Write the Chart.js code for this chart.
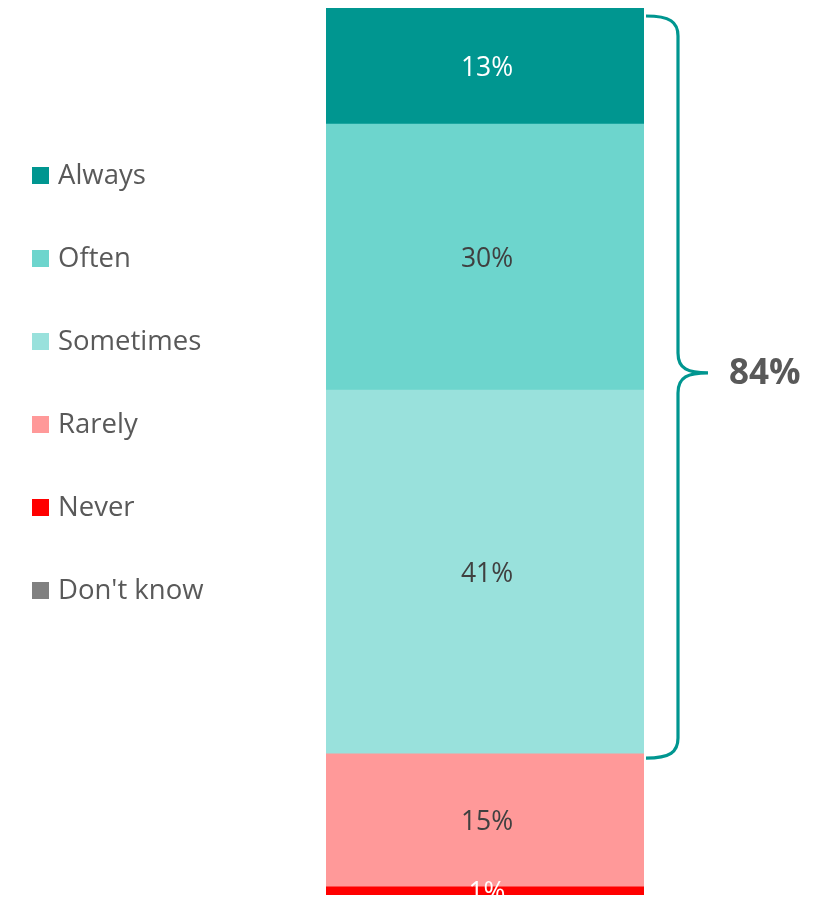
<!DOCTYPE html>
<html lang="en">
<head>
  <meta charset="UTF-8" />
  <title>Frequency</title>
  <script src="https://cdn.jsdelivr.net/npm/chart.js"></script>
  <style>
    html, body { margin: 0; padding: 0; background: #fff; }
    #wrap { width: 825px; height: 897px; }
  </style>
</head>
<body>
  <div id="wrap"><canvas id="freqChart" width="825" height="897"></canvas></div>
  <script>
    const categories = ['Frequency'];
    const answers = ['Always', 'Often', 'Sometimes', 'Rarely', 'Never', "Don't know"];
    const shares = [13, 30, 41, 15, 1, 0];
    const colors = ['#009690', '#6DD5CD', '#99E1DC', '#FF9999', '#FF0000', '#808080'];
    const labelColors = ['#FFFFFF', '#404040', '#404040', '#404040', '#FFFFFF', '#FFFFFF'];
    const positiveCount = 3; // Always + Often + Sometimes

    const FONT = "'Open Sans', sans-serif";
    const TEAL = '#009690';
    const GREY = '#595959';

    // value labels in the middle of each segment
    const segmentLabels = {
      id: 'segmentLabels',
      afterDatasetsDraw(chart) {
        const ctx = chart.ctx;
        ctx.save();
        ctx.font = '26.5px ' + FONT;
        ctx.textAlign = 'center';
        ctx.textBaseline = 'middle';
        chart.data.datasets.forEach((ds, i) => {
          const v = ds.data[0];
          if (!v) return;
          const bar = chart.getDatasetMeta(i).data[0];
          ctx.fillStyle = labelColors[i];
          ctx.fillText(v + '%', bar.x + 2, (bar.y + bar.base) / 2 + 3);
        });
        ctx.restore();
      }
    };

    // legend on the left, one row per answer
    const sideLegend = {
      id: 'sideLegend',
      afterDraw(chart) {
        const ctx = chart.ctx;
        ctx.save();
        ctx.font = '27.5px ' + FONT;
        ctx.textBaseline = 'middle';
        chart.data.datasets.forEach((ds, i) => {
          const y = 175 + i * 83;
          ctx.fillStyle = ds.backgroundColor;
          ctx.fillRect(32, y - 8, 17, 17);
          ctx.fillStyle = GREY;
          ctx.fillText(ds.label, 58, y + 1);
        });
        ctx.restore();
      }
    };

    // curly bracket around the positive answers with their total
    const totalBracket = {
      id: 'totalBracket',
      afterDraw(chart) {
        const ctx = chart.ctx;
        const yScale = chart.scales.y;
        const bar = chart.getDatasetMeta(0).data[0];
        const total = shares.slice(0, positiveCount).reduce((a, b) => a + b, 0);
        const top = yScale.getPixelForValue(0) + 8;
        const bottom = yScale.getPixelForValue(total) + 5;
        const mid = top + (bottom - top) * 0.481;
        const x0 = bar.x + bar.width / 2 + 2;
        const xv = x0 + 32;
        const xt = x0 + 62;
        ctx.save();
        ctx.strokeStyle = TEAL;
        ctx.lineWidth = 3.2;
        ctx.beginPath();
        ctx.moveTo(x0, top);
        ctx.bezierCurveTo(x0 + 24, top, xv, top + 6, xv, top + 20);
        ctx.lineTo(xv, mid - 20);
        ctx.bezierCurveTo(xv, mid - 4, xv + 10, mid, xt, mid);
        ctx.bezierCurveTo(xv + 10, mid, xv, mid + 4, xv, mid + 20);
        ctx.lineTo(xv, bottom - 20);
        ctx.bezierCurveTo(xv, bottom - 6, x0 + 24, bottom, x0, bottom);
        ctx.stroke();
        ctx.fillStyle = GREY;
        ctx.font = 'bold 35px ' + FONT;
        ctx.textBaseline = 'middle';
        ctx.fillText(total + '%', xt + 21, mid + 1);
        ctx.restore();
      }
    };

    new Chart(document.getElementById('freqChart'), {
      type: 'bar',
      data: {
        labels: categories,
        datasets: answers.map((a, i) => ({
          label: a,
          data: [shares[i]],
          backgroundColor: colors[i],
          borderWidth: 0,
          barPercentage: 1,
          categoryPercentage: 1
        }))
      },
      options: {
        responsive: false,
        animation: false,
        layout: { padding: { left: 326, right: 181, top: 8, bottom: 2 } },
        scales: {
          x: { stacked: true, display: false },
          y: { stacked: true, display: false, reverse: true, min: 0, max: 100 }
        },
        plugins: {
          legend: { display: false },
          tooltip: { enabled: false }
        }
      },
      plugins: [segmentLabels, sideLegend, totalBracket]
    });
  </script>
</body>
</html>
